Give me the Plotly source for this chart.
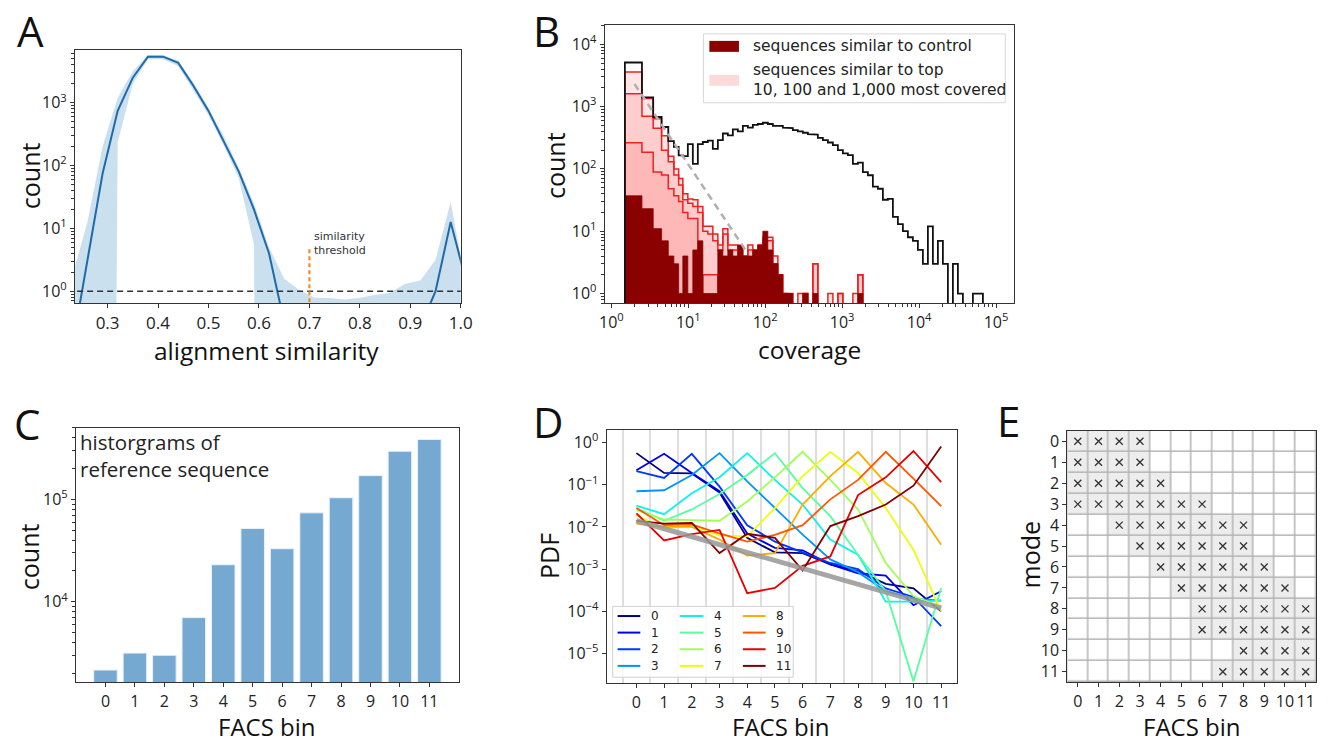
import numpy as np
import plotly.graph_objects as go

W, H = 1331, 742
FONT = "Open Sans, Liberation Sans, sans-serif"
MPL = "DejaVu Sans, sans-serif"

# ---------------- Panel A: alignment similarity ----------------
sim_x = [0.23, 0.26, 0.29, 0.32, 0.35, 0.38, 0.41, 0.44, 0.47, 0.50, 0.53, 0.56, 0.59, 0.62,
         0.65, 0.68, 0.71, 0.74, 0.77, 0.80, 0.83, 0.86, 0.89, 0.92, 0.95, 0.98, 1.01]
sim_count = [0.13, 3.1, 74, 740, 2500, 5400, 5400, 4300, 1860, 740, 250, 80, 20, 4.0,
             0.32, 0, 0, 0, 0, 0, 0, 0, 0, 0.27, 1.0, 12.6, 1.5]
sim_upper = [1.74, 12.6, 200, 1200, 3160, 5750, 5750, 4680, 2090, 830, 295, 93, 25, 5.0,
             1.58, 1.05, 0.79, 0.78, 0.74, 0.79, 0.87, 0.95, 1.32, 1.48, 3.16, 26.3, 1.32]
sim_lower = [0, 0, 0, 234, 2000, 4900, 4900, 3800, 1580, 630, 210, 63, 5.6, 0,
             0, 0, 0, 0, 0, 0, 0, 0, 0, 0, 0, 0, 0]
threshold = 0.7

# ---------------- Panel B: coverage histograms ----------------
cov_edges_int = [1.5, 2.5, 3.5, 4.5, 5.5, 6.5, 7.5, 8.5]
cov_log_step = 0.065
all_counts = [5100, 1400, 680, 470, 280, 225, 165, 160, 250, 120, 250, 270, 285, 210, 290, 370,
              345, 430, 400, 490, 460, 510, 525, 550, 525, 490, 490, 460, 450, 420, 400, 380,
              360, 355, 315, 290, 265, 240, 200, 178, 166, 120, 126, 89, 79, 52, 48, 32,
              33, 17, 13, 10, 8, 7, 5, 3, 12, 3, 7, 3, 0, 3, 1, 0, 0, 1, 1, 0]
top_1000 = [3600, 1350, 640, 340, 160, 100, 70, 40, 33, 32, 25, 12, 12, 9, 6, 11, 6, 6, 5, 4,
            6, 5, 6, 8, 8, 4, 2, 1, 1, 0, 1, 1, 0, 3, 0, 0, 1, 0, 1, 0, 0, 1, 2]
top_100 = [1600, 700, 450, 200, 130, 80, 55, 32, 28, 25, 20, 10, 9, 7, 5, 9, 5, 5, 4, 3,
           5, 4, 5, 7, 7, 3, 1, 1, 0, 0, 0, 1, 0, 3, 0, 0, 0, 0, 1, 0, 0, 0, 2]
top_10 = [263, 185, 89, 80, 48, 37, 30, 20, 16, 16, 0, 2, 2, 2, 0, 0, 1, 0, 0, 0, 0, 0, 1, 1]
control = [37, 23, 11, 7, 4, 3, 1, 4, 1, 5, 7, 1, 1, 1, 5, 4, 5, 4, 6, 4, 4, 5, 6, 10, 5, 3,
           2, 1, 1, 0, 0, 1, 0, 1, 0, 0, 0, 0, 0, 0, 0, 0, 1]
fit_x = [2.0, 56.0]
fit_y = [2300, 4.9]

# ---------------- Panel C: reference sequence histogram ----------------
facs_bins = list(range(12))
ref_counts = [2150, 3150, 3000, 7000, 23000, 52000, 33000, 74000, 104000, 171000, 296000, 386000]

# ---------------- Panel D: PDF per mode ----------------
pdf_0 = [0.56, 0.19, 0.185, 0.065, 0.0055, 0.0025, 0.0024, 0.0013, 0.0009, 0.00045, 0.00035, 0.0001]
pdf_1 = [0.22, 0.54, 0.19, 0.07, 0.007, 0.0032, 0.0028, 0.0013, 0.0008, 0.0007, 0.00014, 0.0003]
pdf_2 = [0.21, 0.145, 0.54, 0.09, 0.011, 0.0045, 0.0025, 0.0014, 0.001, 0.00035, 0.00022, 0.000045]
pdf_3 = [0.07, 0.074, 0.17, 0.56, 0.12, 0.028, 0.0066, 0.0017, 0.00085, 0.0003, 0.0002, 0.00018]
pdf_4 = [0.032, 0.02, 0.063, 0.15, 0.56, 0.13, 0.034, 0.005, 0.0022, 0.00017, 0.00017, 0.00018]
pdf_5 = [0.028, 0.014, 0.026, 0.06, 0.17, 0.56, 0.083, 0.018, 0.0022, 0.0003, 0.0000022, 0.00036]
pdf_6 = [0.025, 0.015, 0.0145, 0.014, 0.04, 0.15, 0.6, 0.13, 0.026, 0.0014, 0.00023, 0.00013]
pdf_7 = [0.019, 0.009, 0.011, 0.0063, 0.006, 0.028, 0.16, 0.6, 0.19, 0.028, 0.0029, 0.0001]
pdf_8 = [0.012, 0.01, 0.01, 0.005, 0.0021, 0.0024, 0.034, 0.16, 0.6, 0.11, 0.034, 0.0038]
pdf_9 = [0.028, 0.011, 0.0115, 0.007, 0.0045, 0.0065, 0.011, 0.045, 0.13, 0.6, 0.14, 0.031]
pdf_10 = [0.021, 0.0048, 0.0068, 0.0085, 0.00027, 0.00036, 0.0012, 0.002, 0.057, 0.15, 0.63, 0.115]
pdf_11 = [0.014, 0.012, 0.0125, 0.0024, 0.0069, 0.0055, 0.00093, 0.0105, 0.018, 0.034, 0.095, 0.8]
pdf_mean_x = [0, 11]
pdf_mean_y = [0.014, 0.00012]

# ---------------- Panel E: modes vs FACS bins ----------------
mode_bins = [[0, 1, 2, 3], [0, 1, 2, 3], [0, 1, 2, 3, 4], [0, 1, 2, 3, 4, 5, 6],
             [2, 3, 4, 5, 6, 7, 8], [3, 4, 5, 6, 7, 8], [4, 5, 6, 7, 8, 9],
             [5, 6, 7, 8, 9, 10], [6, 7, 8, 9, 10, 11], [6, 7, 8, 9, 10, 11],
             [8, 9, 10, 11], [7, 8, 9, 10, 11]]


# ---------------- helpers ----------------
def px(x):
    return x / W


def py(y):
    return 1 - y / H


def sup(n):
    return "10<sup>%s%d</sup>" % ("\u2212" if n < 0 else "", abs(n))


def minor_vals(lo, hi):
    return [m * 10.0 ** k for k in range(lo, hi + 1) for m in range(2, 10)]


def jet(t):
    r = np.interp(t, [0, 0.35, 0.66, 0.89, 1], [0, 0, 1, 1, 0.5])
    g = np.interp(t, [0, 0.125, 0.375, 0.64, 0.91, 1], [0, 0, 1, 1, 0, 0])
    b = np.interp(t, [0, 0.11, 0.34, 0.65, 1], [0.5, 1, 1, 0, 0])
    return "rgb(%d,%d,%d)" % (r * 255, g * 255, b * 255)


def step(edges, counts, floor=1e-3):
    xs, ys = [edges[0]], [floor]
    for i, c in enumerate(counts):
        v = c if c > 0 else floor
        xs += [edges[i], edges[i + 1]]
        ys += [v, v]
    xs.append(edges[len(counts)])
    ys.append(floor)
    return xs, ys


n_extra = len(all_counts) + 1 - len(cov_edges_int)
cov_edges = cov_edges_int + [cov_edges_int[-1] * 10 ** (cov_log_step * k) for k in range(1, n_extra + 1)]

fig = go.Figure()

# ---- A ----
clip = lambda v: [c if c > 0 else 1e-30 for c in v]
fig.add_trace(go.Scatter(x=sim_x + sim_x[::-1], y=clip(sim_upper) + clip(sim_lower)[::-1],
                         fill="toself", fillcolor="rgba(31,119,180,0.23)", line=dict(width=0),
                         mode="lines", hoverinfo="skip", xaxis="x", yaxis="y"))
fig.add_trace(go.Scatter(x=sim_x, y=[c if c > 0 else None for c in sim_count], mode="lines",
                         line=dict(color="#1f6aa8", width=2), xaxis="x", yaxis="y"))
fig.add_trace(go.Scatter(x=[0.2, 1.05], y=[1, 1], mode="lines",
                         line=dict(color="#333", width=1.3, dash="6px,4px"), xaxis="x", yaxis="y"))
fig.add_trace(go.Scatter(x=[threshold, threshold], y=[0.4, 5.0], mode="lines",
                         line=dict(color="#f08a2c", width=2.2, dash="4px,3px"), xaxis="x", yaxis="y"))

# ---- B ----
for arr in [top_1000, top_100, top_10]:
    xs, ys = step(cov_edges, arr)
    fig.add_trace(go.Scatter(x=xs, y=ys, mode="lines", fill="toself", fillcolor="rgba(255,0,0,0.1)",
                             line=dict(color="#ee2020", width=1.5), xaxis="x2", yaxis="y2"))
xs, ys = step(cov_edges, control)
fig.add_trace(go.Scatter(x=xs, y=ys, mode="lines", fill="toself", fillcolor="#8b0000",
                         line=dict(color="#8b0000", width=0.8), xaxis="x2", yaxis="y2"))
xs, ys = step(cov_edges, all_counts)
fig.add_trace(go.Scatter(x=xs, y=ys, mode="lines", line=dict(color="#111", width=1.8),
                         xaxis="x2", yaxis="y2"))
fig.add_trace(go.Scatter(x=fit_x, y=fit_y, mode="lines",
                         line=dict(color="#b0b0b0", width=2.5, dash="7px,5px"), xaxis="x2", yaxis="y2"))

# ---- C ----
fig.add_trace(go.Bar(x=facs_bins, y=ref_counts, width=0.8, marker=dict(color="#76a9d1",
                     line=dict(color="#e8f1f8", width=1)), xaxis="x3", yaxis="y3"))

# ---- D ----
pdfs = [pdf_0, pdf_1, pdf_2, pdf_3, pdf_4, pdf_5, pdf_6, pdf_7, pdf_8, pdf_9, pdf_10, pdf_11]
for i, p in enumerate(pdfs):
    fig.add_trace(go.Scatter(x=facs_bins, y=p, mode="lines", line=dict(color=jet(i / 11), width=1.8),
                             xaxis="x4", yaxis="y4"))
fig.add_trace(go.Scatter(x=pdf_mean_x, y=pdf_mean_y, mode="lines",
                         line=dict(color="rgba(150,150,150,0.85)", width=5), xaxis="x4", yaxis="y4"))

# ---- E ----
z = [[1 if b in mode_bins[m] else 0 for b in facs_bins] for m in range(12)]
fig.add_trace(go.Heatmap(x=facs_bins, y=list(range(12)), z=z, zmin=0, zmax=1, showscale=False,
                         colorscale=[[0, "white"], [1, "#ededed"]], xgap=1.5, ygap=1.5,
                         hoverinfo="skip", xaxis="x5", yaxis="y5"))
ex = [b for m in range(12) for b in mode_bins[m]]
ey = [m for m in range(12) for b in mode_bins[m]]
fig.add_trace(go.Scatter(x=ex, y=ey, mode="markers",
                         marker=dict(symbol="x-thin", size=7, line=dict(width=1.3, color="#333")),
                         xaxis="x5", yaxis="y5"))

# ---------------- axes ----------------
common = dict(showline=True, linecolor="#333", linewidth=1.3, mirror=True, ticks="outside",
              ticklen=4, tickwidth=1, tickcolor="#333", showgrid=False, zeroline=False,
              tickfont=dict(family=FONT, size=16, color="#222"))
minor_style = dict(ticks="outside", ticklen=2.5, tickcolor="#333", showgrid=False)

a_ticks = [0.3, 0.4, 0.5, 0.6, 0.7, 0.8, 0.9, 1.0]
fig.update_layout(
    xaxis=dict(common, domain=[px(70), px(461)], range=[0.2355, 1.0], anchor="y", ticklabelstandoff=0,
               tickvals=a_ticks, ticktext=["%.1f" % v for v in a_ticks], tickfont=dict(family=FONT, size=17, color="#222")),
    yaxis=dict(common, domain=[py(303), py(49)], type="log", range=[-0.19, 3.84], anchor="x",
               tickvals=[1, 10, 100, 1000], ticktext=[sup(k) for k in range(4)],
               minor=dict(minor_style, tickvals=minor_vals(-1, 3))),
    xaxis2=dict(common, domain=[px(607), px(1022)], type="log", range=[-0.085, 5.236], anchor="y2",
                tickvals=[10 ** k for k in range(6)], ticktext=[sup(k) for k in range(6)],
                minor=dict(minor_style, tickvals=minor_vals(0, 5))),
    yaxis2=dict(common, domain=[py(303), py(24)], type="log", range=[-0.155, 4.31], anchor="x2",
                tickvals=[10 ** k for k in range(5)], ticktext=[sup(k) for k in range(5)],
                minor=dict(minor_style, tickvals=minor_vals(-1, 4))),
    xaxis3=dict(common, domain=[px(71), px(459)], range=[-1, 12], anchor="y3", ticklabelstandoff=0,
                tickvals=facs_bins, ticktext=[str(b) for b in facs_bins]),
    yaxis3=dict(common, domain=[py(683), py(428)], type="log", range=[3.214, 5.70], anchor="x3",
                tickvals=[1e4, 1e5], ticktext=[sup(4), sup(5)],
                minor=dict(minor_style, tickvals=minor_vals(3, 5))),
    xaxis4=dict(common, domain=[px(609), px(964)], range=[-1.07, 11.57], anchor="y4", ticklabelstandoff=0,
                tickvals=facs_bins, ticktext=[str(b) for b in facs_bins],
                minor=dict(tickvals=[b - 0.5 for b in facs_bins], showgrid=True, gridcolor="#dedede",
                           gridwidth=1.6, ticks="")),
    yaxis4=dict(common, domain=[py(684), py(430)], type="log", range=[-5.70, 0.30], anchor="x4",
                tickvals=[10.0 ** k for k in range(-5, 1)], ticktext=[sup(k) for k in range(-5, 1)]),
    xaxis5=dict(common, domain=[px(1076), px(1328)], range=[-0.5, 11.5], anchor="y5", ticklabelstandoff=0,
                tickvals=facs_bins, ticktext=[str(b) for b in facs_bins]),
    yaxis5=dict(common, domain=[py(683), py(431)], range=[11.5, -0.5], anchor="x5",
                tickvals=facs_bins, ticktext=[str(b) for b in facs_bins]),
)

# ---------------- shapes (legend boxes, E grid background) ----------------
shapes = [
    dict(type="rect", xref="x5 domain", yref="y5 domain", x0=0, x1=1, y0=0, y1=1,
         fillcolor="#b4b4b4", line=dict(width=0), layer="below"),
    # B legend
    dict(type="rect", xref="paper", yref="paper", x0=px(707), x1=px(1013), y0=py(102), y1=py(33),
         fillcolor="rgba(255,255,255,0.85)", line=dict(color="#d8d8d8", width=1)),
    dict(type="rect", xref="paper", yref="paper", x0=px(713), x1=px(743), y0=py(51), y1=py(40),
         fillcolor="#8b0000", line=dict(width=0)),
    dict(type="rect", xref="paper", yref="paper", x0=px(713), x1=px(743), y0=py(85), y1=py(74),
         fillcolor="#fddada", line=dict(width=0)),
    # D legend
    dict(type="rect", xref="paper", yref="paper", x0=px(615), x1=px(798), y0=py(678), y1=py(607),
         fillcolor="rgba(255,255,255,0.85)", line=dict(color="#d0d0d0", width=1)),
]
annotations = []
rows_y = [616.7, 633.3, 650.0, 666.7]
cols = [(620, 643, 653), (683, 707, 717), (747, 770, 780)]
for i in range(12):
    c, r = divmod(i, 4)
    x0, x1, xt = cols[c]
    shapes.append(dict(type="line", xref="paper", yref="paper", x0=px(x0), x1=px(x1),
                       y0=py(rows_y[r]), y1=py(rows_y[r]), line=dict(color=jet(i / 11), width=2)))
    annotations.append(dict(x=px(xt), y=py(rows_y[r]), xref="paper", yref="paper", text=str(i),
                            showarrow=False, xanchor="left", yanchor="middle", borderpad=0,
                            font=dict(family=MPL, size=12, color="#222")))


def label(text, x, y, size=25, angle=0, family=FONT, anchor="center", color="#111"):
    annotations.append(dict(x=px(x), y=py(y), xref="paper", yref="paper", text=text, showarrow=False,
                            xanchor=anchor, yanchor="middle", textangle=angle, borderpad=0,
                            align=anchor if anchor != "center" else "center",
                            font=dict(family=family, size=size, color=color)))


label("sequences similar to control", 756, 45.5, size=15.5, family=MPL, anchor="left", color="#222")
label("sequences similar to top<br>10, 100 and 1,000 most covered", 756, 79, size=15.5, family=MPL,
      anchor="left", color="#222")
label("similarity<br>threshold", 311, 243, size=11, family=MPL, anchor="left", color="#333")
label("historgrams of<br>reference sequence", 74, 456, size=20.5, anchor="left", color="#222")

# panel letters
label("A", 25, 30, size=42)
label("B", 548, 30, size=42)
label("C", 21, 424, size=42)
label("D", 549, 422, size=42)
label("E", 1016, 421, size=42)

# axis titles
label("count", 24, 175, angle=-90)
label("alignment similarity", 264, 350, size=24.5)
label("count", 556, 165, angle=-90)
label("coverage", 815, 349, size=24.5)
label("count", 24, 557, angle=-90)
label("FACS bin", 265, 727, size=24)
label("PDF", 551, 557, angle=-90)
label("FACS bin", 786, 727, size=24)
label("mode", 1038, 555, angle=-90)
label("FACS bin", 1202, 727, size=24)

fig.update_layout(width=W, height=H, margin=dict(l=0, r=0, t=0, b=0), showlegend=False,
                  paper_bgcolor="white", plot_bgcolor="white", shapes=shapes, annotations=annotations,
                  font=dict(family=FONT))
fig.write_html("out.html")
